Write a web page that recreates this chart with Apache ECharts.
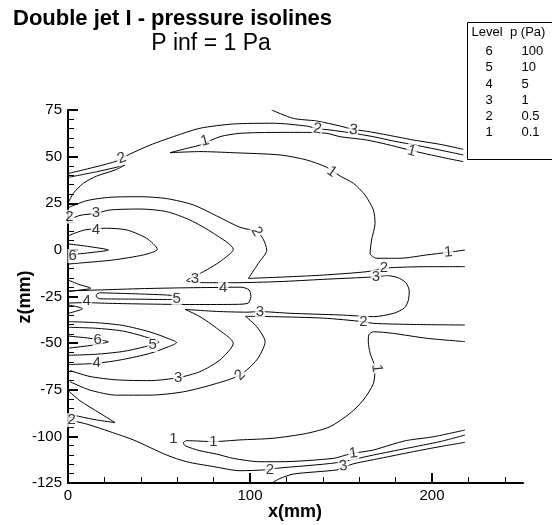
<!DOCTYPE html>
<html><head><meta charset="utf-8">
<script src="https://cdn.jsdelivr.net/npm/echarts@6/dist/echarts.min.js"></script>
<style>html,body{margin:0;padding:0;background:#fff}#c{width:552px;height:525px}</style>
</head><body><div id="c"></div>
<script>
// ---- axis ticks ----
const xTickValues = [0, 100, 200];
const xMinorTickValues = [20, 40, 60, 80, 120, 140, 160, 180, 220, 240];
const zTickValues = [75, 50, 25, 0, -25, -50, -75, -100, -125];
// ---- legend table ----
const legendLevels = ['6', '5', '4', '3', '2', '1'];
const legendPressures = ['100', '10', '5', '1', '0.5', '0.1'];
// ---- contour polylines, [x mm, z mm] ----
const c1Upper = [[217.2,47.3],[208.1,49.1],[197.1,51.4],[186.1,53.9],[175.1,56.6],[164.1,58.9],[149.5,60.7],[142.1,62.5],[131.1,63.0],[116.5,63.0],[94.5,62.5],[83.5,60.7],[72.5,56.2],[65.2,54.4],[56.0,52.1],[72.5,52.7],[90.8,52.1],[116.5,50.9],[131.1,48.2],[142.1,44.3],[149.5,39.6],[156.8,35.7],[163.2,29.4],[167.8,21.4],[168.7,14.2],[166.8,5.3],[166.0,-1.9],[169.6,-4.5],[182.4,-4.5],[197.1,-2.7],[209.0,-1.3],[218.1,-0.1]];
const c1Lower = [[218.1,-49.2],[197.1,-47.4],[178.8,-44.8],[167.8,-43.9],[165.3,-45.5],[165.0,-49.2],[166.0,-55.4],[168.7,-63.5],[167.8,-71.6],[162.3,-80.5],[155.0,-87.6],[144.0,-94.8],[131.1,-98.4],[112.8,-101.0],[94.5,-101.9],[79.9,-102.8],[65.2,-102.3],[63.4,-103.4],[64.3,-105.0],[72.5,-107.7],[81.7,-109.5],[90.8,-111.8],[105.5,-113.6],[116.5,-113.6],[145.8,-111.8],[155.0,-109.4],[167.8,-107.3],[177.0,-104.6],[186.1,-102.2],[200.8,-100.2],[218.1,-96.6]];
const c2Top = [[0.2,41.0],[25.8,47.3],[34.1,51.4],[45.1,56.2],[57.9,60.7],[72.5,65.2],[90.8,67.5],[112.8,67.9],[131.1,66.4],[137.0,65.0],[143.9,64.3],[154.9,62.8],[167.7,60.7],[178.7,58.4],[193.4,55.7],[217.2,50.9]];
const c2TopWedge = [[0.2,38.9],[15.8,41.9],[25.8,44.1],[31.3,45.5],[25.8,42.8],[15.8,39.6],[8.4,35.7],[2.9,30.3],[0.2,25.3]];
const c2UpperArch = [[0.2,22.7],[10.3,26.4],[23.1,28.2],[39.6,28.5],[54.2,27.5],[68.9,24.1],[81.7,18.2],[94.5,12.1],[103.7,9.8],[107.3,5.7],[109.2,-0.1],[104.6,-7.2],[99.1,-15.3],[122.0,-14.4],[140.3,-13.5],[164.1,-11.7],[173.6,-9.9],[180.6,-9.4],[197.1,-9.0],[218.1,-9.0]];
const c2LowerArch = [[218.1,-40.3],[190.0,-40.0],[167.8,-39.4],[162.3,-38.5],[140.3,-36.6],[112.8,-35.8],[97.5,-35.6],[103.7,-41.2],[108.3,-49.2],[103.7,-59.0],[94.5,-67.1],[81.7,-71.6],[63.4,-76.1],[45.1,-77.9],[26.7,-77.9],[12.1,-75.2],[1.1,-70.7]];
const c2BottomWedge = [[0.2,-75.5],[6.6,-80.9],[17.6,-87.6],[25.8,-92.6],[15.8,-91.2],[6.6,-89.4],[0.2,-87.9]];
const c2Bottom = [[0.2,-91.2],[10.3,-93.4],[23.1,-97.5],[35.9,-101.9],[54.2,-110.0],[65.2,-113.6],[79.9,-116.2],[94.5,-118.4],[107.3,-118.0],[114.7,-117.1],[147.7,-114.1],[167.8,-110.0],[186.1,-106.4],[204.4,-102.8],[218.1,-99.3]];
const c3Top = [[111.9,75.0],[123.8,70.5],[136.6,69.1],[149.5,66.4],[156.8,64.6],[164.1,63.6],[173.3,62.0],[189.8,58.9],[204.4,56.6],[217.2,53.9]];
const c3Main = [[0.2,16.0],[6.6,18.5],[15.4,19.6],[23.1,21.4],[39.6,21.9],[54.2,20.5],[67.0,16.0],[79.9,8.9],[90.8,0.3],[83.5,-6.3],[74.4,-11.7],[65.2,-16.5],[76.2,-17.6],[90.8,-17.6],[116.5,-17.0],[140.3,-15.8],[164.1,-14.7],[169.2,-14.4],[175.1,-13.8],[181.0,-14.8],[185.5,-17.5],[187.5,-22.0],[187.0,-27.0],[185.0,-31.0],[179.0,-34.0],[167.8,-35.8],[149.5,-34.9],[122.0,-34.0],[105.5,-33.1],[98.2,-33.4],[81.7,-33.0],[64.3,-31.9],[72.5,-35.8],[81.7,-42.0],[90.8,-50.1],[83.5,-59.0],[72.5,-65.3],[60.6,-68.5],[45.1,-70.1],[26.7,-69.7],[12.1,-67.9],[1.1,-64.7]];
const c3Bottom = [[112.0,-125.0],[116.0,-122.8],[123.8,-120.2],[147.7,-118.0],[151.3,-116.5],[157.7,-114.5],[171.4,-111.8],[189.7,-108.2],[204.4,-105.5],[218.1,-103.2]];
const c4Upper = [[0.2,7.6],[9.3,10.7],[21.2,11.6],[32.2,10.7],[43.2,6.2],[49.1,0.3],[41.4,-2.7],[24.9,-5.4],[8.4,-6.9],[0.2,-7.6]];
const c4Mid = [[0.2,-22.0],[20.0,-21.4],[40.0,-20.8],[60.0,-20.4],[85.3,-20.1],[95.0,-20.0],[99.5,-21.5],[100.5,-25.0],[99.0,-28.5],[93.0,-29.2],[70.0,-29.3],[40.0,-29.0],[20.0,-28.6],[10.3,-28.3],[0.2,-28.5]];
const c4Lower = [[0.2,-38.5],[15.0,-39.0],[30.0,-40.5],[45.0,-44.0],[55.0,-47.5],[59.7,-49.7],[55.0,-52.0],[45.0,-55.5],[30.0,-58.8],[15.8,-60.8],[0.2,-61.5]];
const c4WedgeA = [[0.2,-16.2],[6.0,-18.5],[12.5,-20.6],[6.0,-21.6],[0.2,-22.4]];
const c4WedgeB = [[0.2,-29.5],[8.0,-31.5],[0.2,-34.0]];
const c5Upper = [[0.2,3.2],[12.1,1.7],[22.2,-0.1],[12.1,-1.5],[0.2,-2.7]];
const c5Mid = [[17.5,-23.0],[16.0,-23.5],[15.5,-24.6],[16.0,-25.6],[17.5,-26.2],[35.0,-26.4],[54.0,-26.6],[60.0,-26.5],[60.0,-25.0],[54.0,-24.2],[35.0,-23.5],[17.5,-23.0]];
const c5Lower = [[0.2,-41.5],[15.0,-42.0],[30.0,-43.5],[42.0,-46.5],[50.0,-49.5],[42.0,-52.0],[30.0,-54.5],[15.0,-56.0],[0.2,-56.5]];
const c6Upper = [[0.2,-2.0],[3.5,-3.3],[0.2,-4.8]];
const c6Lower = [[0.2,-46.2],[12.1,-47.4],[19.4,-48.6],[22.2,-49.3],[19.4,-50.0],[12.1,-51.3],[0.2,-52.7]];
// ---- contour labels: [x mm, z mm, level] ----
const contourLabels = [[29.5,49.1,'2'],[75.3,58.4,'1'],[137.0,64.9,'2'],[156.8,64.3,'3'],[188.8,53.0,'1'],[144.9,41.9,'1'],[208.9,-1.3,'1'],[0.8,17.8,'2'],[15.4,19.6,'3'],[15.4,11.0,'4'],[103.7,9.8,'2'],[2.6,-3.3,'6'],[69.8,-15.8,'3'],[85.3,-20.1,'4'],[169.2,-14.4,'3'],[173.6,-9.9,'2'],[59.7,-26.5,'5'],[10.3,-27.5,'4'],[105.5,-33.1,'3'],[162.3,-38.5,'2'],[169.6,-63.5,'1'],[16.3,-48.3,'6'],[46.5,-51.0,'5'],[15.8,-60.8,'4'],[60.6,-68.5,'3'],[94.5,-67.1,'2'],[2.0,-91.3,'2'],[57.9,-101.6,'1'],[79.9,-102.8,'1'],[111.0,-118.0,'2'],[156.8,-109.1,'1'],[151.3,-115.9,'3']];
const labelRotations = [20,15,-8,-8,-15,-35,5,0,0,0,-60,0,0,0,0,0,0,0,0,0,-85,0,0,0,0,45,0,0,0,0,8,8];

const allContours = [c1Upper,c1Lower,c2Top,c2TopWedge,c2UpperArch,c2LowerArch,c2BottomWedge,c2Bottom,c3Top,c3Main,c3Bottom,c4Upper,c4Mid,c4Lower,c4WedgeA,c4WedgeB,c5Upper,c5Mid,c5Lower,c6Upper,c6Lower];

const FONT = '"Liberation Sans", Arial, Helvetica, sans-serif';
const chart = echarts.init(document.getElementById('c'), null, {renderer: 'canvas'});

const series = allContours.map(pts => ({
  type: 'line', data: pts, showSymbol: false, symbol: 'none', smooth: 0.25,
  lineStyle: {color: '#000', width: 1}, xAxisIndex: 0, yAxisIndex: 0,
  silent: true, clip: true, z: 2, animation: false
}));
series.push({
  type: 'scatter', xAxisIndex: 0, yAxisIndex: 0, symbolSize: 1, z: 5, silent: true, animation: false,
  itemStyle: {color: 'rgba(0,0,0,0)'},
  data: contourLabels.map((d, i) => ({value: d, label: {rotate: labelRotations[i]}})),
  label: {show: true, position: 'inside', formatter: p => p.value[2], color: '#000',
    fontFamily: FONT, fontSize: 15, backgroundColor: '#fff', padding: [0, 1], lineHeight: 14}
});

const graphics = [
  {type: 'text', style: {text: 'Double jet I - pressure isolines', x: 13, y: 19, font: 'bold 22px ' + FONT, fill: '#000', textVerticalAlign: 'middle'}},
  {type: 'text', style: {text: 'P inf = 1 Pa', x: 211, y: 44, font: '23px ' + FONT, fill: '#000', textAlign: 'center', textVerticalAlign: 'middle'}},
  {type: 'text', style: {text: 'x(mm)', x: 295, y: 512, font: 'bold 18px ' + FONT, fill: '#000', textAlign: 'center', textVerticalAlign: 'middle'}},
  {type: 'text', rotation: Math.PI / 2, x: 25, y: 297, style: {text: 'z(mm)', x: 0, y: 0, font: 'bold 18px ' + FONT, fill: '#000', textAlign: 'center', textVerticalAlign: 'middle'}},
  {type: 'rect', shape: {x: 467.5, y: 22.5, width: 120, height: 137}, style: {fill: '#fff', stroke: '#000', lineWidth: 1}, z: 10},
  {type: 'text', z: 11, style: {text: 'Level', x: 471.5, y: 32, font: '13px ' + FONT, fill: '#000', textVerticalAlign: 'middle'}},
  {type: 'text', z: 11, style: {text: 'p (Pa)', x: 510, y: 32, font: '13px ' + FONT, fill: '#000', textVerticalAlign: 'middle'}}
];
legendLevels.forEach((lv, i) => {
  const y = 51.7 + 16.2 * i;
  graphics.push({type: 'text', z: 11, style: {text: lv, x: 489, y: y, font: '13px ' + FONT, fill: '#000', textAlign: 'center', textVerticalAlign: 'middle'}});
  graphics.push({type: 'text', z: 11, style: {text: legendPressures[i], x: 521.5, y: y, font: '13px ' + FONT, fill: '#000', textVerticalAlign: 'middle'}});
});

chart.setOption({
  animation: false,
  backgroundColor: '#fff',
  grid: {left: 68, top: 110, width: 455, height: 373, containLabel: false},
  xAxis: [
    {type: 'value', min: 0, max: 250, interval: 100, position: 'bottom',
      axisLine: {show: true, onZero: false, lineStyle: {color: '#000', width: 2}},
      axisTick: {show: true, inside: true, length: 10, customValues: xTickValues, lineStyle: {color: '#000', width: 2}},
      axisLabel: {show: true, customValues: xTickValues, color: '#000', fontFamily: FONT, fontSize: 15, margin: 5},
      splitLine: {show: false}},
    {type: 'value', min: 0, max: 250, position: 'bottom',
      axisLine: {show: false, onZero: false},
      axisTick: {show: true, inside: true, length: 6, customValues: xMinorTickValues, lineStyle: {color: '#000', width: 1}},
      axisLabel: {show: false}, splitLine: {show: false}}
  ],
  yAxis: {type: 'value', min: -125, max: 75, interval: 25,
    axisLine: {show: true, onZero: false, lineStyle: {color: '#000', width: 2}},
    axisTick: {show: true, inside: true, length: 10, lineStyle: {color: '#000', width: 2}},
    minorTick: {show: true, splitNumber: 5, length: 6, lineStyle: {color: '#000', width: 1}},
    axisLabel: {color: '#000', fontFamily: FONT, fontSize: 15, margin: 6, customValues: zTickValues},
    splitLine: {show: false}, minorSplitLine: {show: false}},
  graphic: graphics,
  series: series
});
</script></body></html>
